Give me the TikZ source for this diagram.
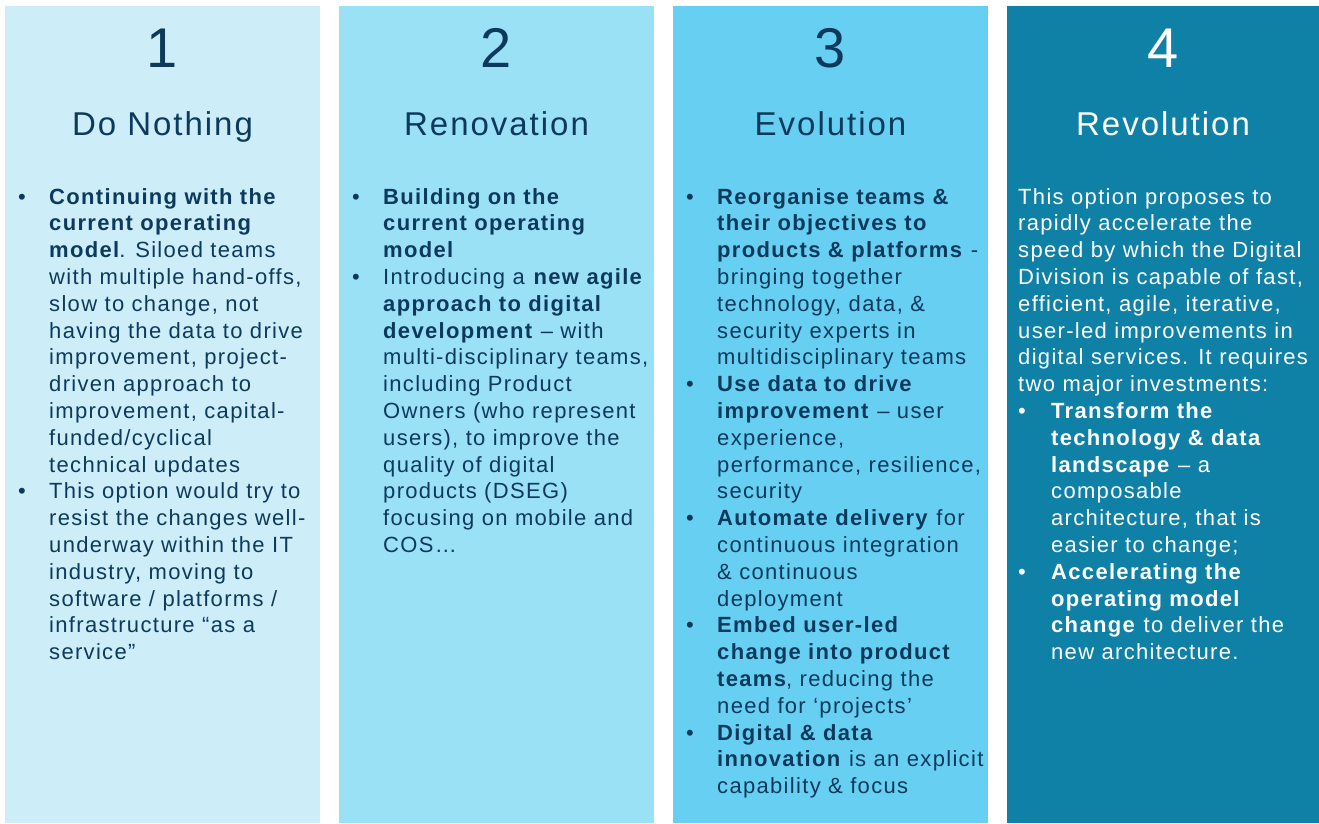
\documentclass[tikz,border=0pt]{standalone}
\usepackage{fontspec}
\setmainfont{Liberation Sans}[LetterSpace=6]
\usepackage{array}
\definecolor{cA}{HTML}{CDEEF9}
\definecolor{cB}{HTML}{9BE1F6}
\definecolor{cC}{HTML}{66CFF2}
\definecolor{cD}{HTML}{1081A6}
\definecolor{ink}{HTML}{0D3A5C}
\tikzset{
  panel/.style={fill=#1, draw=none},
  numtext/.style={anchor=base, inner sep=0pt, font=\fontsize{56}{60}\selectfont},
  titletext/.style={anchor=base, inner sep=0pt, font=\fontsize{33}{36}\selectfont},
  bodytext/.style={anchor=base west, inner sep=0pt, align=left, font=\fontsize{22}{26.8}\selectfont}
}
\begin{document}
\begin{tikzpicture}[x=1pt,y=-1pt]
\useasboundingbox (0,0) rectangle (1319,823);
\fill[white] (0,0) rectangle (1319,823);
\path[panel=cA] (5,6) rectangle (320,823);
\path[panel=cB] (339,6) rectangle (654,823);
\path[panel=cC] (673,6) rectangle (988,823);
\path[panel=cD] (1007,6) rectangle (1319,823);

\node[numtext, text=ink] (n1) at (162.5,67) {1};
\node[numtext, text=ink] (n2) at (496.5,67) {2};
\node[numtext, text=ink] (n3) at (830.5,67) {3};
\node[numtext, text=white] (n4) at (1163,67) {4};

\node[titletext, text=ink] (t1) at (162.5,135) {Do Nothing};
\node[titletext, text=ink] (t2) at (496.5,135) {Renovation};
\node[titletext, text=ink] (t3) at (830.5,135) {Evolution};
\node[titletext, text=white] (t4) at (1163,135) {Revolution};

\node[bodytext, text=ink] (b1) at (18,204) {\begin{tabular}[t]{@{}p{31pt}@{}l@{}}
• & \textbf{Continuing with the}\\
  & \textbf{current operating}\\
  & \textbf{model}.  Siloed teams\\
  & with multiple hand-offs,\\
  & slow to change, not\\
  & having the data to drive\\
  & improvement, project-\\
  & driven approach to\\
  & improvement, capital-\\
  & funded/cyclical\\
  & technical updates\\
• & This option would try to\\
  & resist the changes well-\\
  & underway within the IT\\
  & industry, moving to\\
  & software / platforms /\\
  & infrastructure “as a\\
  & service”
\end{tabular}};

\node[bodytext, text=ink] (b2) at (352,204) {\begin{tabular}[t]{@{}p{31pt}@{}l@{}}
• & \textbf{Building on the}\\
  & \textbf{current operating}\\
  & \textbf{model}\\
• & Introducing a \textbf{new agile}\\
  & \textbf{approach to digital}\\
  & \textbf{development} – with\\
  & multi-disciplinary teams,\\
  & including Product\\
  & Owners (who represent\\
  & users), to improve the\\
  & quality of digital\\
  & products (DSEG)\\
  & focusing on mobile and\\
  & COS…
\end{tabular}};

\node[bodytext, text=ink] (b3) at (686,204) {\begin{tabular}[t]{@{}p{31pt}@{}l@{}}
• & \textbf{Reorganise teams \&}\\
  & \textbf{their objectives to}\\
  & \textbf{products \& platforms} -\\
  & bringing together\\
  & technology, data, \&\\
  & security experts in\\
  & multidisciplinary teams\\
• & \textbf{Use data to drive}\\
  & \textbf{improvement} – user\\
  & experience,\\
  & performance, resilience,\\
  & security\\
• & \textbf{Automate delivery} for\\
  & continuous integration\\
  & \& continuous\\
  & deployment\\
• & \textbf{Embed user-led}\\
  & \textbf{change into product}\\
  & \textbf{teams}, reducing the\\
  & need for ‘projects’\\
• & \textbf{Digital \& data}\\
  & \textbf{innovation} is an explicit\\
  & capability \& focus
\end{tabular}};

\node[bodytext, text=white] (b4) at (1018,204) {\begin{tabular}[t]{@{}p{33pt}@{}l@{}}
\multicolumn{2}{@{}l@{}}{This option proposes to}\\
\multicolumn{2}{@{}l@{}}{rapidly accelerate the}\\
\multicolumn{2}{@{}l@{}}{speed by which the Digital}\\
\multicolumn{2}{@{}l@{}}{Division is capable of fast,}\\
\multicolumn{2}{@{}l@{}}{efficient, agile, iterative,}\\
\multicolumn{2}{@{}l@{}}{user-led improvements in}\\
\multicolumn{2}{@{}l@{}}{digital services.  It requires}\\
\multicolumn{2}{@{}l@{}}{two major investments:}\\
• & \textbf{Transform the}\\
  & \textbf{technology \& data}\\
  & \textbf{landscape} – a\\
  & composable\\
  & architecture, that is\\
  & easier to change;\\
• & \textbf{Accelerating the}\\
  & \textbf{operating model}\\
  & \textbf{change} to deliver the\\
  & new architecture.
\end{tabular}};
\end{tikzpicture}
\end{document}
